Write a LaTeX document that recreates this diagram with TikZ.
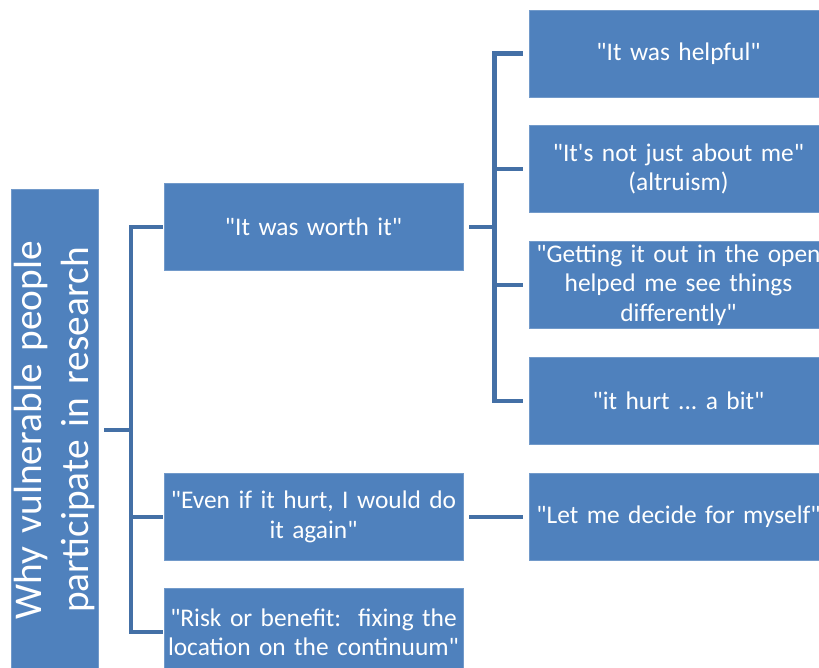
\documentclass[tikz,border=0pt]{standalone}
\usepackage{fontspec}
\setmainfont{Carlito}[Ligatures=TeXOff]
\usepackage{tikz}
\usetikzlibrary{positioning}
\definecolor{boxblue}{HTML}{4F81BD}
\definecolor{linkblue}{HTML}{4470A6}
\frenchspacing

\begin{document}
\begin{tikzpicture}[x=1bp,y=-1bp,
    box/.style={fill=boxblue, draw=boxblue!80!white, line width=0.6bp, text=white,
        minimum width=299bp, minimum height=87bp, text width=295bp, align=center,
        inner sep=0pt, font=\fontsize{25.5}{29.5}\selectfont},
    rootbox/.style={fill=boxblue, draw=boxblue!80!white, line width=0.6bp, text=white,
        rotate=90, minimum width=482bp, minimum height=87bp, text width=470bp,
        align=center, inner sep=0pt, font=\fontsize{39.5}{47}\selectfont},
    link/.style={draw=linkblue, line width=4.5bp}]
    \useasboundingbox (0,0) rectangle (819,668);
    \clip (0,0) rectangle (819,668);

    \node[rootbox] (root) at (54.5,430) {Why vulnerable people\\participate in research};

    \node[box] (worth) at (313.5,227) {"It was worth it"};
    \node[box] (even) at (313.5,517) {"Even if it hurt, I would do\\it again"};
    \node[box] (risk) at (313.5,632) {"Risk or benefit:\ \ fixing the\\location on the continuum"};

    \node[box] (helpful) at (678.5,53.5) {"It was helpful"};
    \node[box] (notme) at (678.5,169) {"It's not just about me"\\(altruism)};
    \node[box] (open) at (678.5,285) {"Getting it out in the open\\helped me see things\\differently"};
    \node[box] (hurt) at (678.5,401) {"it hurt ... a bit"};
    \node[box] (decide) at (678.5,517) {"Let me decide for myself"};

    \coordinate (bus1) at (131,430);
    \coordinate (bus2) at (494.5,227);

    \draw[link] ([xshift=6bp]root.south) -- (bus1);
    \draw[link] (bus1) |- ([xshift=-1bp]worth.west);
    \draw[link] (bus1) |- ([xshift=-1bp]even.west);
    \draw[link] (bus1) |- ([xshift=-1bp]risk.west);

    \draw[link] ([xshift=6bp]worth.east) -- (bus2);
    \draw[link] (bus2) |- ([xshift=-6bp]helpful.west);
    \draw[link] (bus2) |- ([xshift=-6bp]notme.west);
    \draw[link] (bus2) |- ([xshift=-6bp]open.west);
    \draw[link] (bus2) |- ([xshift=-6bp]hurt.west);

    \draw[link] ([xshift=6bp]even.east) -- ([xshift=-6bp]decide.west);
\end{tikzpicture}
\end{document}
